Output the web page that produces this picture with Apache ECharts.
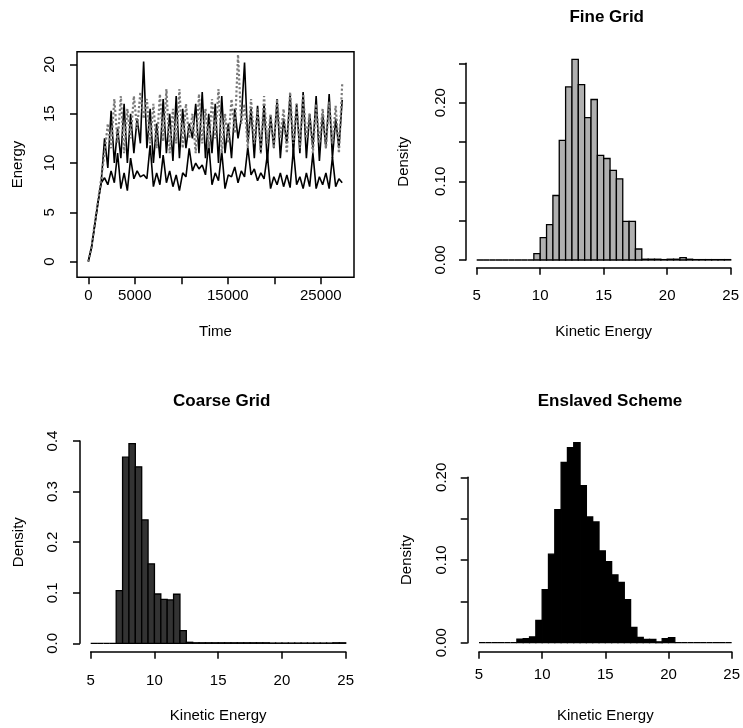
<!DOCTYPE html>
<html>
<head>
<meta charset="utf-8">
<script src="https://cdn.jsdelivr.net/npm/echarts@6/dist/echarts.min.js"></script>
<style>
  html, body { margin: 0; padding: 0; background: #fff; }
  #main { width: 743px; height: 728px; }
</style>
</head>
<body>
<div id="main"></div>
<script>
// time series (energy vs time)
const time = [0, 350, 700, 1050, 1400, 1750, 2100, 2450, 2800, 3150, 3500, 3850, 4200, 4550, 4900,
  5250, 5600, 5950, 6300, 6650, 7000, 7350, 7700, 8050, 8400, 8750, 9100, 9450, 9800, 10150,
  10500, 10850, 11200, 11550, 11900, 12250, 12600, 12950, 13300, 13650, 14000, 14350, 14700,
  15050, 15400, 15750, 16100, 16450, 16800, 17150, 17500, 17850, 18200, 18550, 18900, 19250,
  19600, 19950, 20300, 20650, 21000, 21350, 21700, 22050, 22400, 22750, 23100, 23450, 23800,
  24150, 24500, 24850, 25200, 25550, 25900, 26250, 26600, 26950, 27300];
const fineEnergy = [0, 1.5, 3.9, 6.2, 8.5, 11.0, 14.0, 11.5, 16.5, 12.0, 16.8, 11.0, 15.5, 12.5, 16.8,
  13.5, 17.2, 14.5, 16.5, 12.0, 16.0, 11.5, 17.0, 12.2, 17.5, 11.0, 15.5, 12.0, 17.5, 11.5,
  16.0, 12.5, 15.0, 11.0, 17.0, 12.0, 15.5, 11.5, 16.5, 12.5, 17.5, 11.0, 15.0, 12.0, 16.5,
  13.0, 21.0, 14.0, 16.0, 11.5, 16.5, 12.0, 15.5, 11.0, 16.8, 12.0, 15.0, 11.5, 16.5, 12.5,
  15.5, 11.0, 17.2, 12.0, 16.0, 11.5, 17.0, 12.5, 15.0, 11.0, 16.0, 12.0, 15.5, 11.5, 16.2,
  12.0, 15.8, 11.0, 18.0];
const enslavedEnergy = [0, 1.4, 3.7, 6.0, 8.2, 12.5, 9.5, 15.3, 10.0, 13.5, 10.5, 16.0, 10.0, 15.0, 11.0,
  14.5, 12.0, 20.3, 11.5, 15.5, 10.0, 14.0, 10.5, 16.5, 11.0, 15.0, 10.2, 16.8, 10.5, 15.5,
  11.5, 14.0, 12.5, 16.0, 11.0, 17.2, 10.5, 15.0, 11.0, 16.0, 10.0, 16.8, 11.0, 14.0, 10.5,
  15.5, 12.5, 14.5, 20.2, 12.0, 15.5, 10.5, 15.8, 11.0, 16.0, 10.0, 14.8, 11.5, 16.5, 10.5,
  14.5, 12.0, 17.0, 10.8, 16.0, 11.0, 17.2, 10.5, 15.0, 11.5, 16.8, 10.2, 15.0, 11.5, 17.0,
  10.5, 14.5, 11.5, 16.4];
const coarseEnergy = [0, 1.5, 3.8, 6.1, 8.0, 8.5, 7.8, 9.2, 8.0, 11.0, 7.4, 9.0, 7.2, 10.5, 8.4,
  9.2, 8.6, 8.8, 8.4, 11.8, 7.6, 9.0, 7.8, 10.8, 8.0, 9.2, 7.6, 8.8, 7.2, 9.0,
  8.6, 11.5, 9.2, 10.0, 9.4, 9.8, 8.8, 12.0, 7.8, 9.0, 8.2, 11.2, 7.4, 8.8, 8.6,
  9.6, 8.0, 9.2, 8.6, 11.6, 8.8, 9.4, 8.2, 9.0, 8.4, 10.8, 7.4, 8.6, 7.8, 9.0,
  7.6, 8.8, 7.5, 11.4, 7.8, 8.6, 7.4, 9.0, 7.6, 11.0, 7.4, 8.6, 7.8, 9.0, 7.4,
  10.6, 7.6, 8.4, 8.0];

// histograms: densities of bins of width 0.5 starting at 5
const binStart = 5;
const binWidth = 0.5;
const fineDensity = [0, 0, 0, 0, 0, 0, 0, 0, 0,
  0.008, 0.0285, 0.045, 0.082, 0.152, 0.220, 0.255, 0.223, 0.181, 0.204, 0.133, 0.129, 0.114, 0.103,
  0.049, 0.049, 0.014, 0.001, 0.001, 0.001, 0.0005, 0.001, 0.001, 0.003, 0.001, 0.0005, 0.0005,
  0.0005, 0.0005, 0.0005, 0.0005];
const coarseDensity = [0, 0, 0, 0,
  0.104, 0.368, 0.395, 0.349, 0.244, 0.157, 0.0975, 0.087, 0.0857, 0.097, 0.025, 0.002,
  0.001, 0.001, 0.001, 0.001, 0.001, 0.001, 0.001, 0.001, 0.001, 0.001, 0.001, 0.001,
  0.0005, 0.0005, 0.0005, 0.0005, 0.0005, 0.0005, 0.0005, 0.0005, 0.0005, 0.0005, 0.001, 0.001];
const enslavedDensity = [0, 0, 0, 0, 0, 0,
  0.0044, 0.005, 0.007, 0.027, 0.064, 0.107, 0.161, 0.218, 0.236, 0.242, 0.19, 0.152, 0.146,
  0.111, 0.098, 0.082, 0.073, 0.052, 0.0185, 0.0065, 0.004, 0.004, 0.001, 0.005, 0.006,
  0, 0, 0, 0, 0, 0, 0, 0, 0];

// ticks and tick labels
const timeXTicks = [0, 5000, 10000, 15000, 20000, 25000];
const timeXLabels = [0, 5000, 15000, 25000];
const timeYTicks = [0, 5, 10, 15, 20];
const histXLabels = [5, 10, 15, 20, 25];
const fineYLabels = [0, 0.1, 0.2];
const coarseYLabels = [0, 0.1, 0.2, 0.3, 0.4];
const enslavedYLabels = [0, 0.1, 0.2];

const FONT = "'Liberation Sans', Arial, Helvetica, sans-serif";

function pickLabel(list, digits) {
  return function (v) {
    for (let i = 0; i < list.length; i++) {
      if (Math.abs(list[i] - v) < 1e-9) return digits == null ? String(list[i]) : list[i].toFixed(digits);
    }
    return "";
  };
}

function histData(dens) {
  return dens.map((d, i) => [binStart + i * binWidth, binStart + (i + 1) * binWidth, d]);
}

function histSeries(dens, idx, fill) {
  return {
    type: "custom",
    xAxisIndex: idx,
    yAxisIndex: idx,
    clip: false,
    silent: true,
    data: histData(dens),
    renderItem: function (params, api) {
      const p0 = api.coord([api.value(0), 0]);
      const p1 = api.coord([api.value(1), api.value(2)]);
      return {
        type: "rect",
        shape: { x: p0[0], y: p1[1], width: p1[0] - p0[0], height: p0[1] - p1[1] },
        style: { fill: fill, stroke: "#000", lineWidth: 1.3 }
      };
    }
  };
}

function axisBase(grid, min, max, name, offset, nameGap) {
  return {
    type: "value", gridIndex: grid, min: min, max: max,
    offset: offset, name: name, nameLocation: "middle", nameGap: nameGap,
    nameTextStyle: { fontFamily: FONT, fontSize: 15, color: "#000" },
    splitLine: { show: false },
    axisLine: { onZero: false, lineStyle: { color: "#000", width: 1.5 } },
    axisTick: { length: 7, lineStyle: { color: "#000", width: 1.5 } },
    axisLabel: { fontFamily: FONT, fontSize: 15, color: "#000" }
  };
}

function histX(grid, offset, margin) {
  const a = axisBase(grid, 5, 25, "Kinetic Energy", offset, 57);
  a.interval = 5;
  a.axisLabel.margin = margin;
  a.axisLabel.formatter = pickLabel(histXLabels);
  return a;
}

function histY(grid, max, interval, labels, digits, offset, margin, nameGap) {
  const a = axisBase(grid, 0, max, "Density", offset, nameGap);
  a.interval = interval;
  a.axisLabel.margin = margin;
  a.axisLabel.rotate = 90;
  a.axisLabel.formatter = pickLabel(labels, digits);
  return a;
}

const timeX = axisBase(0, -1215, 28570, "Time", 0, 47);
timeX.axisTick.customValues = timeXTicks;
timeX.axisLabel.customValues = timeXLabels;
timeX.axisLabel.formatter = pickLabel(timeXLabels);
timeX.axisLabel.margin = 11;
timeX.axisLine.show = false;

const timeY = axisBase(0, -1.6, 21.3, "Energy", 0, 52);
timeY.axisTick.customValues = timeYTicks;
timeY.axisLabel.customValues = timeYTicks;
timeY.axisLabel.formatter = pickLabel(timeYTicks);
timeY.axisLabel.margin = 20;
timeY.axisLabel.rotate = 90;
timeY.axisLine.show = false;

const chart = echarts.init(document.getElementById("main"));
const option = {
  animation: false,
  backgroundColor: "#fff",
  title: [
    { text: "Fine Grid", left: 601.7, top: 4, textAlign: "center",
      textStyle: { fontFamily: FONT, fontSize: 17, fontWeight: "bold", color: "#000" } },
    { text: "Coarse Grid", left: 216.7, top: 388, textAlign: "center",
      textStyle: { fontFamily: FONT, fontSize: 17, fontWeight: "bold", color: "#000" } },
    { text: "Enslaved Scheme", left: 605, top: 388, textAlign: "center",
      textStyle: { fontFamily: FONT, fontSize: 17, fontWeight: "bold", color: "#000" } }
  ],
  grid: [
    { left: 77, top: 51.7, width: 277, height: 225.6, show: true, borderColor: "#000", borderWidth: 1.5, backgroundColor: "transparent" },
    { left: 466 + 10.7, top: 63.3, width: 254, height: 196.7 },
    { left: 90.7, top: 441, width: 255, height: 202.3 },
    { left: 479, top: 477.3, width: 253.7, height: 165.4 }
  ],
  xAxis: [
    timeX,
    histX(1, 7.7, 21),
    histX(2, 8.4, 22),
    histX(3, 9, 16)
  ],
  yAxis: [
    timeY,
    histY(1, 0.25, 0.05, fineYLabels, 2, 10.7, 18, 55),
    histY(2, 0.4, 0.1, coarseYLabels, 1, 10.7, 20, 54),
    histY(3, 0.2, 0.05, enslavedYLabels, 2, 11.3, 18, 53)
  ],
  series: [
    {
      type: "line", xAxisIndex: 0, yAxisIndex: 0, symbol: "none", silent: true,
      data: time.map((t, i) => [t, enslavedEnergy[i]]),
      lineStyle: { color: "#000", width: 1.6 }
    },
    {
      type: "line", xAxisIndex: 0, yAxisIndex: 0, symbol: "none", silent: true,
      data: time.map((t, i) => [t, coarseEnergy[i]]),
      lineStyle: { color: "#000", width: 1.6 }
    },
    {
      type: "line", xAxisIndex: 0, yAxisIndex: 0, symbol: "none", silent: true,
      data: time.map((t, i) => [t, fineEnergy[i]]),
      lineStyle: { color: "#7a7a7a", width: 2.2, type: "dotted" }
    },
    histSeries(fineDensity, 1, "#b0b0b0"),
    histSeries(coarseDensity, 2, "#333"),
    histSeries(enslavedDensity, 3, "#000")
  ]
};
chart.setOption(option);
</script>
</body>
</html>
